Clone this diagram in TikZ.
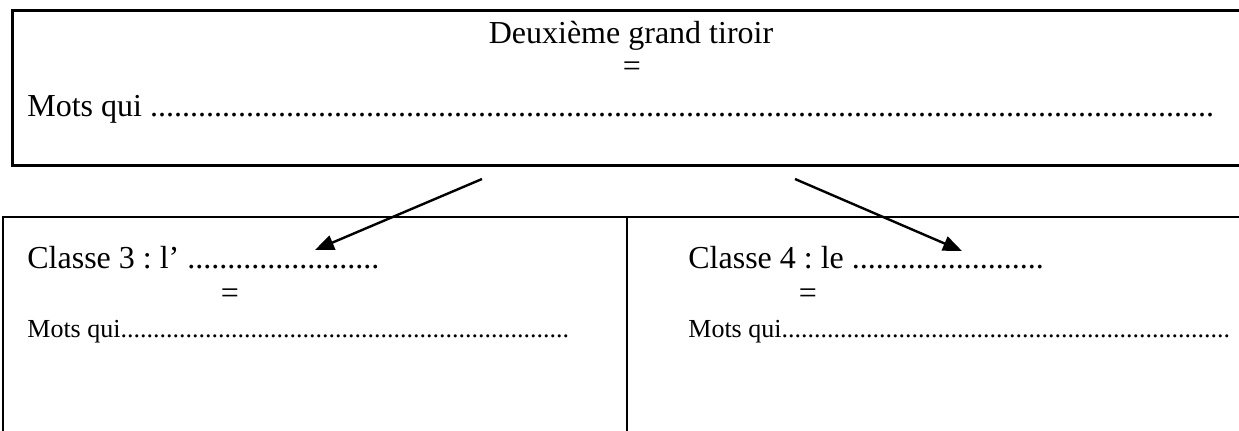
\documentclass[tikz,border=0pt]{standalone}
\usepackage{fontspec}
\setmainfont{Liberation Serif}
\usetikzlibrary{arrows.meta}
\frenchspacing
\newcommand{\dotsn}[1]{\foreach \i in {1,...,#1}{.}}
\tikzset{
  big/.style={inner sep=0pt, anchor=base west, font=\fontsize{16}{19}\selectfont},
  bigc/.style={inner sep=0pt, anchor=base, font=\fontsize{16}{19}\selectfont},
  small/.style={inner sep=0pt, anchor=base west, font=\fontsize{13}{16}\selectfont},
  topframe/.style={line width=1.5pt},
  botframe/.style={line width=1pt},
  conn/.style={line width=1.2pt, -{Triangle[length=9.5pt,width=7.5pt]}}
}
\begin{document}
\begin{tikzpicture}[x=0.5pt,y=-0.5pt]
\useasboundingbox (0,0) rectangle (1239,430);
\clip (0,0) rectangle (1239,430);
% top frame
\draw[topframe] (1260,10) -- (12,10) -- (12,165) -- (1260,165);
% bottom frames
\draw[botframe] (3,450) -- (3,217) -- (1260,217);
\draw[botframe] (627,217) -- (627,450);
% top texts
\node[bigc] (title) at (631,43) {Deuxième grand tiroir};
\node[bigc] (eqtop) at (632,76) {=};
\node[big] (motstop) at (27,116) {Mots qui \dotsn{133}};
% left box
\node[big] (c3) at (27,268) {Classe 3 : l’ \dotsn{24}};
\node[bigc] (eq3) at (230,303) {=};
\node[small] (m3) at (27,337) {Mots qui\dotsn{69}};
% right box
\node[big] (c4) at (688,268) {Classe 4 : le \dotsn{24}};
\node[bigc] (eq4) at (808,303) {=};
\node[small] (m4) at (688,337) {Mots qui\dotsn{69}};
% arrows
\coordinate (s3) at (482,179);
\coordinate (t3) at (315,250);
\coordinate (s4) at (795,179);
\coordinate (t4) at (962,251);
\draw[conn] (s3) -- (t3);
\draw[conn] (s4) -- (t4);
\end{tikzpicture}
\end{document}
